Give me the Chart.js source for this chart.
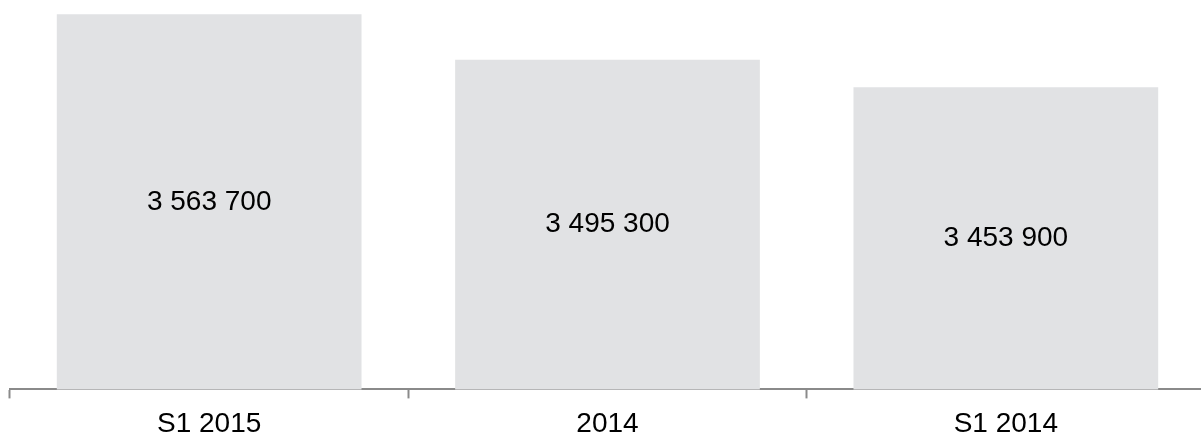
<!DOCTYPE html>
<html>
<head>
<meta charset="utf-8">
<script src="https://cdn.jsdelivr.net/npm/chart.js@4"></script>
<style>
  html, body { margin: 0; padding: 0; background: #fff; overflow: hidden; }
  #wrap { width: 1205px; height: 440px; }
</style>
</head>
<body>
<div id="wrap"><canvas id="myChart"></canvas></div>
<script>
const categories = ["S1 2015", "2014", "S1 2014"];
const values = [3563700, 3495300, 3453900];
const yMin = 3000000;
const yMax = 3585000;

const fmt = (v) => String(v).replace(/\B(?=(\d{3})+(?!\d))/g, " ");

// writes the value in the middle of each bar
const barLabels = {
  id: "barLabels",
  afterDraw(chart) {
    const c = chart.ctx;
    const xs = chart.scales.x;
    const ys = chart.scales.y;
    c.save();
    c.font = "28px Arial, sans-serif";
    c.fillStyle = "#000000";
    c.textAlign = "center";
    c.textBaseline = "middle";
    values.forEach((v, i) => {
      const x = xs.getPixelForValue(i);
      const top = ys.getPixelForValue(v);
      const base = ys.getPixelForValue(yMin);
      c.fillText(fmt(v), x, (top + base) / 2);
    });
    c.restore();
  },
};

const ctx = document.getElementById("myChart");

const data = {
  labels: categories,
  datasets: [
    {
      data: values,
      backgroundColor: "rgb(225, 226, 228)",
      borderWidth: 0,
      categoryPercentage: 1,
      barPercentage: 0.765,
    },
  ],
};

const config = {
  type: "bar",
  data: data,
  plugins: [barLabels],
  options: {
    responsive: true,
    maintainAspectRatio: false,
    animation: false,
    layout: { padding: { left: 10, right: 0, top: 0, bottom: -10 } },
    plugins: { legend: { display: false }, tooltip: { enabled: false } },
    scales: {
      x: {
        grid: {
          offset: true,
          drawOnChartArea: false,
          drawTicks: true,
          tickLength: 9,
          tickWidth: 2,
          tickColor: "#8a8a8a",
        },
        border: { display: true, color: "#8a8a8a", width: 2 },
        ticks: {
          color: "#000",
          padding: 9,
          font: { family: "Arial, sans-serif", size: 28 },
        },
      },
      y: {
        display: false,
        min: yMin,
        max: yMax,
      },
    },
  },
};

new Chart(ctx, config);
</script>
</body>
</html>
